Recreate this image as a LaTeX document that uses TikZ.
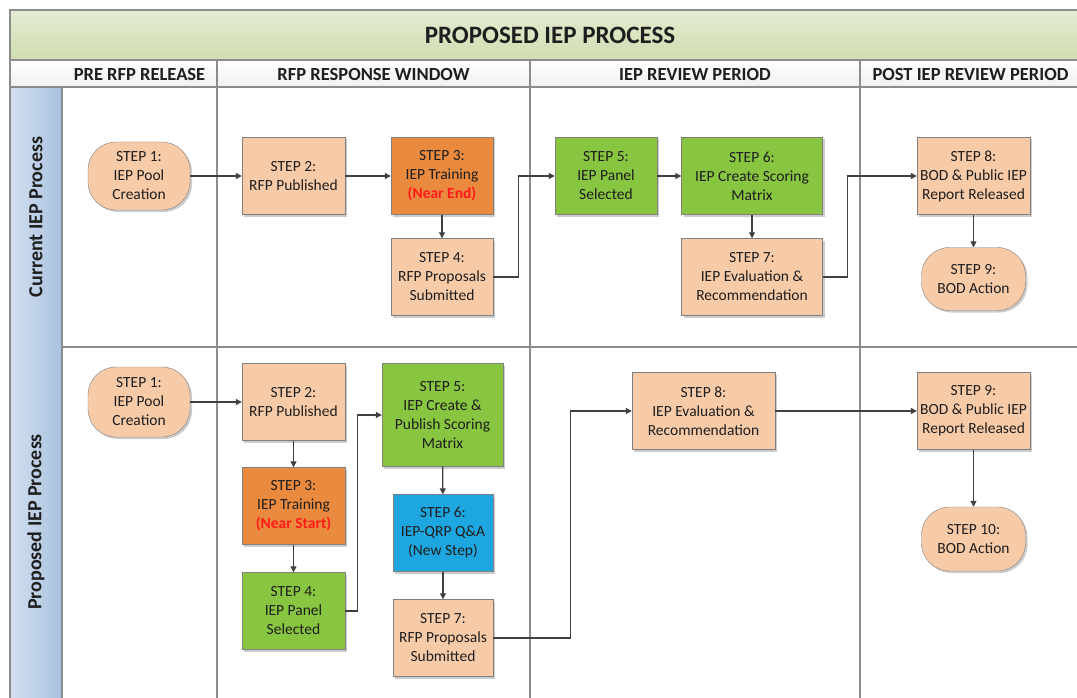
\documentclass[tikz,border=0pt]{standalone}
\usepackage{fontspec}
\setmainfont{Carlito}
\usetikzlibrary{arrows.meta,shadows}

\definecolor{peach}{HTML}{F8CBA8}
\definecolor{trainorange}{HTML}{EA8A3E}
\definecolor{panelgreen}{HTML}{88C540}
\definecolor{qablue}{HTML}{1EA6E0}
\definecolor{nearred}{HTML}{FF1A1A}
\definecolor{boxline}{HTML}{7F7F7F}
\definecolor{gridline}{HTML}{8C8C8C}
\definecolor{flowline}{HTML}{404040}
\definecolor{inktext}{HTML}{1E1E1E}
\definecolor{bandtop}{HTML}{E4ECD3}
\definecolor{bandbot}{HTML}{CFDDAF}
\definecolor{laneleft}{HTML}{D3E0F0}
\definecolor{laneright}{HTML}{A9C1E0}

\tikzset{
  stepbox/.style={draw=boxline, fill=peach, rectangle, align=center, inner sep=2pt,
    minimum width=103pt, minimum height=77pt, text=inktext,
    font=\fontsize{15.5}{19}\selectfont,
    drop shadow={shadow xshift=2pt, shadow yshift=-2pt, fill=black, opacity=0.2}},
  stepend/.style={stepbox, rounded corners=28pt, minimum width=102pt, minimum height=68pt},
  trainbox/.style={stepbox, fill=trainorange},
  panelbox/.style={stepbox, fill=panelgreen},
  qabox/.style={stepbox, fill=qablue},
  flow/.style={->, draw=flowline, line width=1.2pt},
  grid/.style={draw=gridline, line width=1.2pt},
  headtext/.style={font=\bfseries\fontsize{18.5}{20}\selectfont, text=inktext},
  lanetext/.style={font=\bfseries\fontsize{20}{22}\selectfont, text=inktext, rotate=90},
}

\begin{document}
\begin{tikzpicture}[x=1pt, y=-1pt, >={Triangle[length=6pt,width=6pt]}]
  \useasboundingbox (0,0) rectangle (1077,698);
  \clip (0,0) rectangle (1077,698);
  \fill[white] (0,0) rectangle (1077,698);

  % frame: title band, column headers, lane column
  \draw[grid, top color=bandtop, bottom color=bandbot] (10,10) rectangle (1095,60);
  \draw[grid, top color=white, bottom color=black!6] (10,60) rectangle (1095,87);
  \draw[grid, left color=laneleft, right color=laneright] (10,87) rectangle (62,710);
  \draw[grid] (62,347) -- (1095,347);
  \draw[grid] (217,60) -- (217,710);
  \draw[grid] (530,60) -- (530,710);
  \draw[grid] (860,60) -- (860,710);

  \node[font=\bfseries\fontsize{25}{27}\selectfont, text=inktext] (title) at (550,35) {PROPOSED IEP PROCESS};
  \node[headtext] (hdrpre) at (139.5,74) {PRE RFP RELEASE};
  \node[headtext] (hdrrfp) at (373.5,74) {RFP RESPONSE WINDOW};
  \node[headtext] (hdrrev) at (695,74) {IEP REVIEW PERIOD};
  \node[headtext, anchor=west] (hdrpost) at (869,74) {POST IEP REVIEW PERIOD};

  \node[lanetext] (lanecur) at (36,217) {Current IEP Process};
  \node[lanetext] (lanepro) at (36,522) {Proposed IEP Process};

  % current process
  \node[stepend] (c1) at (139,176) {STEP 1:\\IEP Pool\\Creation};
  \node[stepbox] (c2) at (293.5,176) {STEP 2:\\RFP Published};
  \node[trainbox, minimum width=102pt] (c3) at (442,176) {STEP 3:\\IEP Training\\\textcolor{nearred}{\bfseries(Near End)}};
  \node[stepbox, minimum width=102pt] (c4) at (442,277) {STEP 4:\\RFP Proposals\\Submitted};
  \node[panelbox, minimum width=102pt] (c5) at (606,176) {STEP 5:\\IEP Panel\\Selected};
  \node[panelbox, minimum width=141pt] (c6) at (752,176) {STEP 6:\\IEP Create Scoring\\Matrix};
  \node[stepbox, minimum width=141pt] (c7) at (752,277) {STEP 7:\\IEP Evaluation \&\\Recommendation};
  \node[stepbox, minimum width=113pt] (c8) at (973.5,176) {STEP 8:\\BOD \& Public IEP\\Report Released};
  \node[stepend, minimum width=104pt, minimum height=63pt] (c9) at (973.5,279) {STEP 9:\\BOD Action};

  % proposed process
  \node[stepend, minimum height=70pt] (p1) at (139,402) {STEP 1:\\IEP Pool\\Creation};
  \node[stepbox] (p2) at (293.5,402) {STEP 2:\\RFP Published};
  \node[trainbox] (p3) at (293.5,506) {STEP 3:\\IEP Training\\\textcolor{nearred}{\bfseries(Near Start)}};
  \node[panelbox] (p4) at (293.5,611) {STEP 4:\\IEP Panel\\Selected};
  \node[panelbox, minimum width=121pt, minimum height=103pt] (p5) at (442.5,415) {STEP 5:\\IEP Create \&\\Publish Scoring\\Matrix};
  \node[qabox, minimum width=100pt] (p6) at (443,533) {STEP 6:\\IEP-QRP Q\&A\\(New Step)};
  \node[stepbox, minimum width=100pt] (p7) at (443,638) {STEP 7:\\RFP Proposals\\Submitted};
  \node[stepbox, minimum width=143pt] (p8) at (703.5,411) {STEP 8:\\IEP Evaluation \&\\Recommendation};
  \node[stepbox, minimum width=113pt] (p9) at (973.5,411) {STEP 9:\\BOD \& Public IEP\\Report Released};
  \node[stepend, minimum width=104pt, minimum height=64pt] (p10) at (973.5,539) {STEP 10:\\BOD Action};

  % flows
  \draw[flow] (c1) -- (c2);
  \draw[flow] (c2) -- (c3);
  \draw[flow] (c3) -- (c4);
  \draw[flow] (c4.east) -- ++(25,0) |- (c5.west);
  \draw[flow] (c5) -- (c6);
  \draw[flow] (c6) -- (c7);
  \draw[flow] (c7.east) -- ++(25,0) |- (c8.west);
  \draw[flow] (c8) -- (c9);

  \draw[flow] (p1) -- (p2);
  \draw[flow] (p2) -- (p3);
  \draw[flow] (p3) -- (p4);
  \draw[flow] (p4.east) -- ++(12,0) |- (p5.west);
  \draw[flow] (p5) -- (p6);
  \draw[flow] (p6) -- (p7);
  \draw[flow] (p7.east) -- ++(77,0) |- (p8.west);
  \draw[flow] (p8) -- (p9);
  \draw[flow] (p9) -- (p10);
\end{tikzpicture}
\end{document}
